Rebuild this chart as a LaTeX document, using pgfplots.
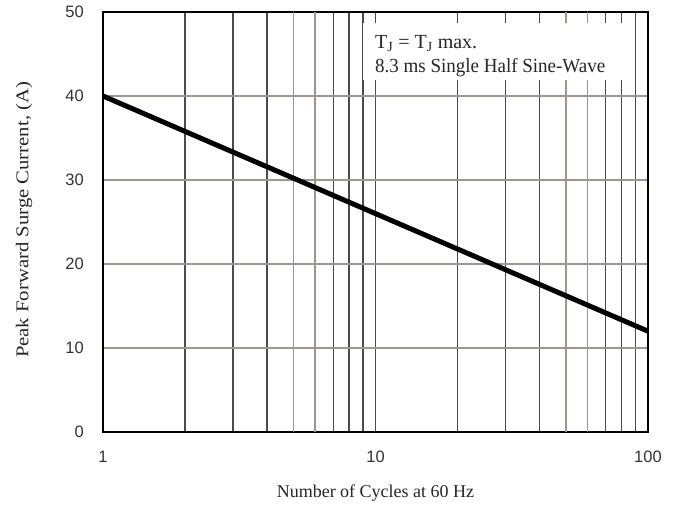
\documentclass[border=0pt]{standalone}
\usepackage{pgfplots}
\pgfplotsset{compat=1.18}
\usepackage{fontspec}
\setmainfont{Liberation Serif}
\setsansfont{Liberation Sans}
\definecolor{hgrid}{RGB}{160,150,142}
\definecolor{vgrid}{RGB}{75,75,75}
\begin{document}
\begin{tikzpicture}
\begin{axis}[
  name=main,
  scale only axis,
  width=545pt, height=420pt,
  xmode=log, xmin=1, xmax=100,
  ymin=0, ymax=50,
  xtick={1,10,100}, xticklabels={1,10,100},
  minor xtick={2,3,4,7,8,9,20,30,40,70,80,90},
  ytick={0,10,20,30,40,50},
  extra x ticks={5,6,50,60},
  extra x tick labels={},
  extra x tick style={major grid style={hgrid, line width=1.5pt}},
  xmajorgrids, xminorgrids, ymajorgrids,
  major grid style={vgrid, line width=1.2pt},
  minor grid style={vgrid, line width=1.2pt},
  y grid style={hgrid, line width=1.5pt},
  major tick length=0pt, minor tick length=0pt,
  axis line style={black, line width=1.8pt},
  /pgf/number format/assume math mode=true,
  tick label style={font=\sffamily\fontsize{16.5}{16.5}\selectfont, text=black!80, inner sep=0pt},
  xticklabel style={anchor=north, yshift=-19pt},
  yticklabel style={anchor=east, xshift=-19pt},
  xlabel={Number of Cycles at 60 Hz},
  ylabel={\scalebox{1.15}[1]{Peak Forward Surge Current, (A)}},
  label style={font=\fontsize{18}{18}\selectfont, text=black!85},
  xlabel style={at={(axis description cs:0.5,-0.145)}, anchor=center},
  ylabel style={at={(axis description cs:-0.145,0.505)}, anchor=center},
]
\addplot[black, line width=5pt, line cap=butt] coordinates {(1,40) (100,12)};
\fill[white] (rel axis cs:0.477,0.838) rectangle (rel axis cs:0.967,0.974);
\node[anchor=base west, inner sep=0pt, font=\fontsize{20}{20}\selectfont, text=black!85] at (rel axis cs:0.499,0.914) {T\textsubscript{J} = T\textsubscript{J} max.};
\node[anchor=base west, inner sep=0pt, font=\fontsize{20}{20}\selectfont, text=black!85] at (rel axis cs:0.499,0.857) {\scalebox{0.95}[1]{8.3 ms Single Half Sine-Wave}};
\end{axis}
\path[use as bounding box] (main.south west) ++(-103pt,-74pt) rectangle ++(680pt,506pt);
\end{tikzpicture}
\end{document}
